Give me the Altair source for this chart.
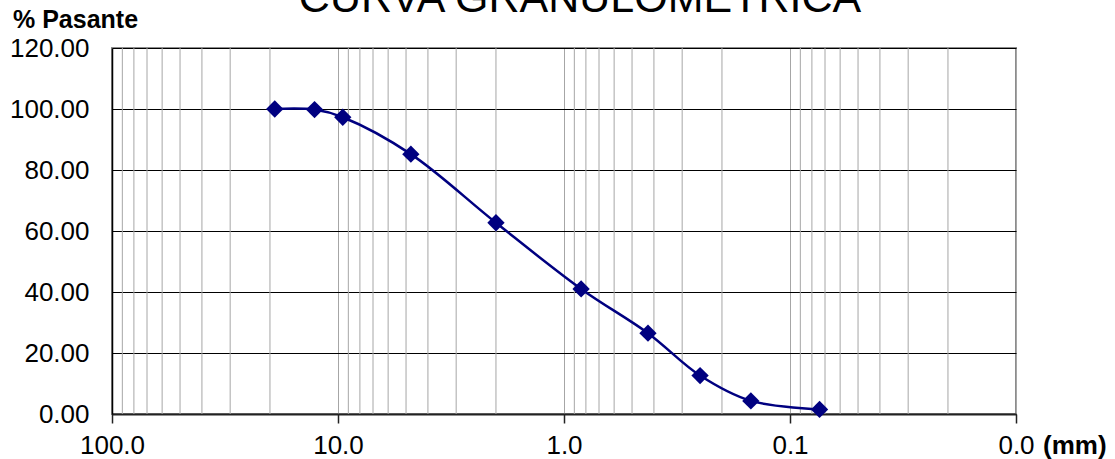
import altair as alt
import pandas as pd

# Sieve openings (mm) and percent passing
abertura_mm = [19.05, 12.7, 9.525, 4.76, 2.0, 0.84, 0.425, 0.25, 0.149, 0.074]
pasante = [100.0, 99.8, 97.3, 85.2, 62.7, 41.0, 26.5, 12.6, 4.3, 1.5]

decadas = [100, 10, 1, 0.1, 0.01]
menores = [m * d for d in [10, 1, 0.1, 0.01] for m in range(2, 10)]
y_ticks = [0, 20, 40, 60, 80, 100, 120]

FONT = "Liberation Sans"
W, H = 904, 366

df = pd.DataFrame({"abertura": abertura_mm, "pasante": pasante})
df_minor = pd.DataFrame({"abertura": menores})

x_scale = alt.Scale(type="log", domain=[100, 0.01], nice=False)
y_scale = alt.Scale(domain=[0, 120], nice=False)

minor_grid = alt.Chart(df_minor).mark_rule(color="#a6a6a6", strokeWidth=1).encode(
    x=alt.X("abertura:Q", scale=x_scale),
)

x_axis = alt.Axis(
    values=decadas, format=".1f", title=None, grid=True, gridColor="#a6a6a6",
    gridWidth=1, domainColor="#222222", domainWidth=2, tickColor="#222222",
    tickSize=9, tickWidth=1.5, labelFont=FONT, labelFontSize=26, labelColor="black",
    labelPadding=9, labelFlush=False, labelOverlap=False,
)
y_axis = alt.Axis(
    values=y_ticks, format=".2f", title=None, grid=True, gridColor="black",
    gridWidth=1, domainColor="black", domainWidth=1.5, ticks=False,
    labelFont=FONT, labelFontSize=26, labelColor="black", labelPadding=23,
)

base = alt.Chart(df).encode(
    x=alt.X("abertura:Q", scale=x_scale, axis=x_axis),
    y=alt.Y("pasante:Q", scale=y_scale, axis=y_axis),
)

curva = base.mark_line(color="#000080", strokeWidth=2.5, interpolate="catmull-rom")
puntos = base.mark_point(shape="diamond", filled=True, color="#000080", size=300, opacity=1)


def etiqueta(texto, x, y, size, weight="normal", align="left"):
    return alt.Chart(pd.DataFrame({"t": [texto]})).mark_text(
        font=FONT, fontSize=size, fontWeight=weight, align=align,
        baseline="alphabetic", color="black",
    ).encode(text="t:N", x=alt.value(x), y=alt.value(y))


titulo = etiqueta("CURVA GRANULOMETRICA", 468, -36, 43, align="center")
eje_y = etiqueta("% Pasante", -99, -20, 25, weight="bold")
eje_x = etiqueta("(mm)", 931, 40 + H, 26, weight="bold")

chart = alt.layer(minor_grid, curva, puntos, titulo, eje_y, eje_x).properties(
    width=W, height=H,
    autosize=alt.AutoSizeParams(type="none"),
    padding={"left": 112, "top": 48, "right": 1115 - 112 - W, "bottom": 459 - 48 - H},
    background="white",
).configure_view(stroke="#8c8c8c", strokeWidth=2)

chart.save("out.html", embed_options={"renderer": "svg", "actions": False})
